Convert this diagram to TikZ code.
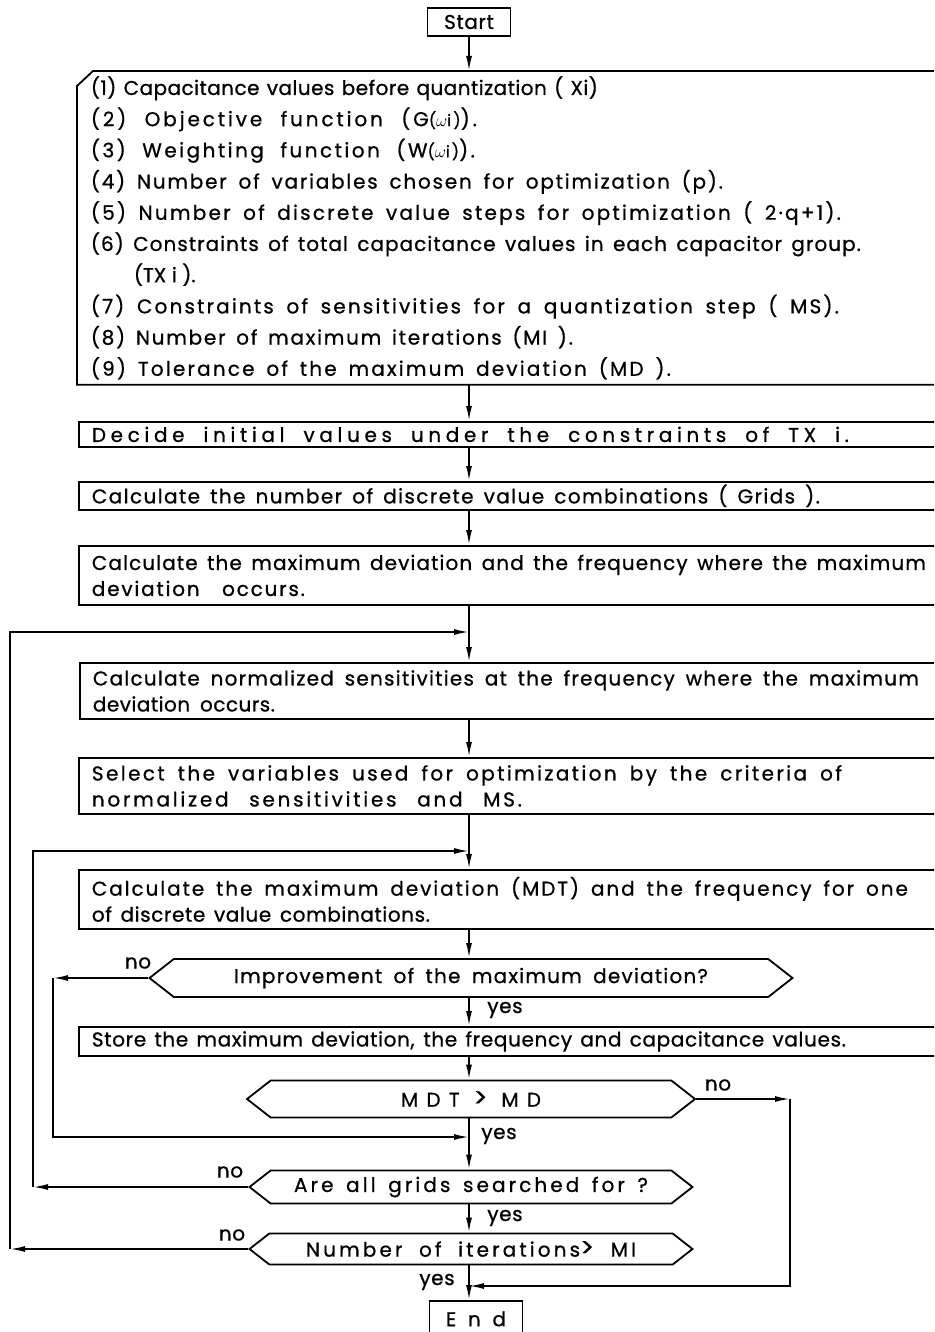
\documentclass[tikz,border=0pt]{standalone}
\usepackage{fontspec}
\setmainfont{Poppins}[LetterSpace=3,FakeBold=0.8]
\usetikzlibrary{arrows.meta,shapes.symbols}

\newlength\natw
\newlength\widew
% spread a line to a given width: part by letter spacing, the rest between words
\newcommand\spreadto[2]{\leavevmode\begingroup
  \spaceskip=0.28em plus 1fil\xspaceskip=\spaceskip
  \settowidth\natw{\addfontfeature{LetterSpace=0}#2}%
  \settowidth\widew{\addfontfeature{LetterSpace=10}#2}%
  \pgfmathsetmacro\ls{round(10*max(0,6*(#1pt-\natw)/max(1pt,\widew-\natw)))/10}%
  \addfontfeature{LetterSpace=\ls}%
  \hbox to #1pt{#2}\endgroup}
\newcommand\smallw{{\fontsize{16}{16}\selectfont($\omega$i)}}
\newcommand\bigger{{\fontsize{26}{26}\selectfont>}}

\tikzset{
  flow/.style={line width=1.8pt},
  arr/.style={flow,-{Latex[length=15pt,width=6pt]}},
  proc/.style={draw,flow,anchor=north west,align=left,inner xsep=13pt,inner ysep=0pt,text width=870},
  term/.style={draw,flow,minimum height=28,inner sep=0pt},
  decide/.style={draw,flow,signal,signal to=west and east,signal pointer angle=76,inner sep=0pt},
  tag/.style={inner sep=0pt}
}

\begin{document}
\begin{tikzpicture}[x=1pt,y=-1pt,font=\fontsize{20}{26}\selectfont]
  \useasboundingbox (0,0) rectangle (934,1332);
  \clip (0,0) rectangle (934,1332);
  \coordinate (mx) at (469,0);

  % start and input data
  \node[term,minimum width=83] (start) at (469,22) {Start};
  \node[proc,minimum height=312,draw=none,font=\fontsize{20}{31.2}\selectfont] (inp) at (77,71)
    {\spreadto{507}{(1) Capacitance values before quantization ( Xi)}\\
     \spreadto{386}{(2) Objective function (G\smallw).}\\
     \spreadto{384}{(3) Weighting function (W\smallw).}\\
     \spreadto{632}{(4) Number of variables chosen for optimization (p).}\\
     \spreadto{750}{(5) Number of discrete value steps for optimization ( 2·q+1).}\\
     \spreadto{770}{(6) Constraints of total capacitance values in each capacitor group.}\\
     \hspace*{43pt}\spreadto{39}{(TX i ).}\\
     \spreadto{748}{(7) Constraints of sensitivities for a quantization step ( MS).}\\
     \spreadto{482}{(8) Number of maximum iterations (MI ).}\\
     \spreadto{580}{(9) Tolerance of the maximum deviation (MD ).}};
  \draw[flow] ([yshift=-15pt]inp.north west) -- ([xshift=16pt]inp.north west)
    -- (inp.north east) -- (inp.south east) -- (inp.south west) -- cycle;

  % process boxes
  \node[proc,minimum height=25] (init) at (78,421) {\spreadto{757}{Decide initial values under the constraints of TX i.}};
  \node[proc,minimum height=28] (grid) at (78,481) {\spreadto{728}{Calculate the number of discrete value combinations ( Grids ).}};
  \node[proc,minimum height=59] (dev) at (78,545) {\spreadto{834}{Calculate the maximum deviation and the frequency where the maximum}\\\spreadto{213}{deviation occurs.}};
  \node[proc,minimum height=56] (sens) at (79,662) {\spreadto{826}{Calculate normalized sensitivities at the frequency where the maximum}\\\spreadto{182}{deviation occurs.}};
  \node[proc,minimum height=56] (sel) at (78,757) {\spreadto{750}{Select the variables used for optimization by the criteria of}\\\spreadto{430}{normalized sensitivities and MS.}};
  \node[proc,minimum height=59] (mdt) at (78,869) {\spreadto{816}{Calculate the maximum deviation (MDT) and the frequency for one}\\\spreadto{338}{of discrete value combinations.}};
  \node[decide,minimum width=643,minimum height=38] (imp) at (471,978) {\spreadto{474}{Improvement of the maximum deviation?}};
  \node[proc,minimum height=29] (store) at (78,1026) {\spreadto{754}{Store the maximum deviation, the frequency and capacitance values.}};
  \node[decide,minimum width=448,minimum height=37] (cmp) at (471,1099) {\spreadto{140}{MDT \bigger{} MD}};
  \node[decide,minimum width=443,minimum height=33] (all) at (471,1187) {\spreadto{354}{Are all grids searched for ?}};
  \node[decide,minimum width=443,minimum height=31] (iter) at (471,1249) {\spreadto{330}{Number of iterations\bigger{} MI}};
  \node[term,minimum width=93,minimum height=36,anchor=north] (end) at (476,1300) {\spreadto{60}{E n d}};

  % junctions and corners
  \coordinate (j1) at (469,632);
  \coordinate (j2) at (469,851);
  \coordinate (j3) at (469,1137);
  \coordinate (j4) at (469,1286);
  \coordinate (c1) at (53,978);
  \coordinate (c2) at (790,1099);
  \coordinate (c3) at (33,1187);
  \coordinate (c4) at (10,1249);

  % main line
  \draw[arr] (start.south) -- (inp.north -| mx);
  \draw[arr] (inp.south -| mx) -- (init.north -| mx);
  \draw[arr] (init.south -| mx) -- (grid.north -| mx);
  \draw[arr] (grid.south -| mx) -- (dev.north -| mx);
  \draw[flow] (dev.south -| mx) -- (j1);
  \draw[arr] (j1) -- (sens.north -| mx);
  \draw[arr] (sens.south -| mx) -- (sel.north -| mx);
  \draw[flow] (sel.south -| mx) -- (j2);
  \draw[arr] (j2) -- (mdt.north -| mx);
  \draw[arr] (mdt.south -| mx) -- (imp.north -| mx);
  \draw[arr] (imp.south -| mx) -- (store.north -| mx);
  \draw[arr] (store.south -| mx) -- (cmp.north -| mx);
  \draw[flow] (cmp.south -| mx) -- (j3);
  \draw[arr] (j3) -- (all.north -| mx);
  \draw[arr] (all.south -| mx) -- (iter.north -| mx);
  \draw[flow] (iter.south -| mx) -- (j4);
  \draw[arr] (j4) -- (end.north -| mx);

  % loops back
  \draw[arr] (imp.west) -- (c1);
  \draw[arr] (c1) |- (j3);
  \draw[arr] (cmp.east) -- (c2);
  \draw[arr] (c2) |- (j4);
  \draw[arr] (all.west) -- (c3);
  \draw[arr] (c3) |- (j2);
  \draw[arr] (iter.west) -- (c4);
  \draw[arr] (c4) |- (j1);

  % branch labels
  \node[tag] (no1) at (138,963) {no};
  \node[tag] (yes1) at (505,1010) {yes};
  \node[tag] (no2) at (718,1085) {no};
  \node[tag] (yes2) at (499,1136) {yes};
  \node[tag] (no3) at (230,1172) {no};
  \node[tag] (yes3) at (505,1218) {yes};
  \node[tag] (no4) at (232,1235) {no};
  \node[tag] (yes4) at (437,1282) {yes};
\end{tikzpicture}
\end{document}
